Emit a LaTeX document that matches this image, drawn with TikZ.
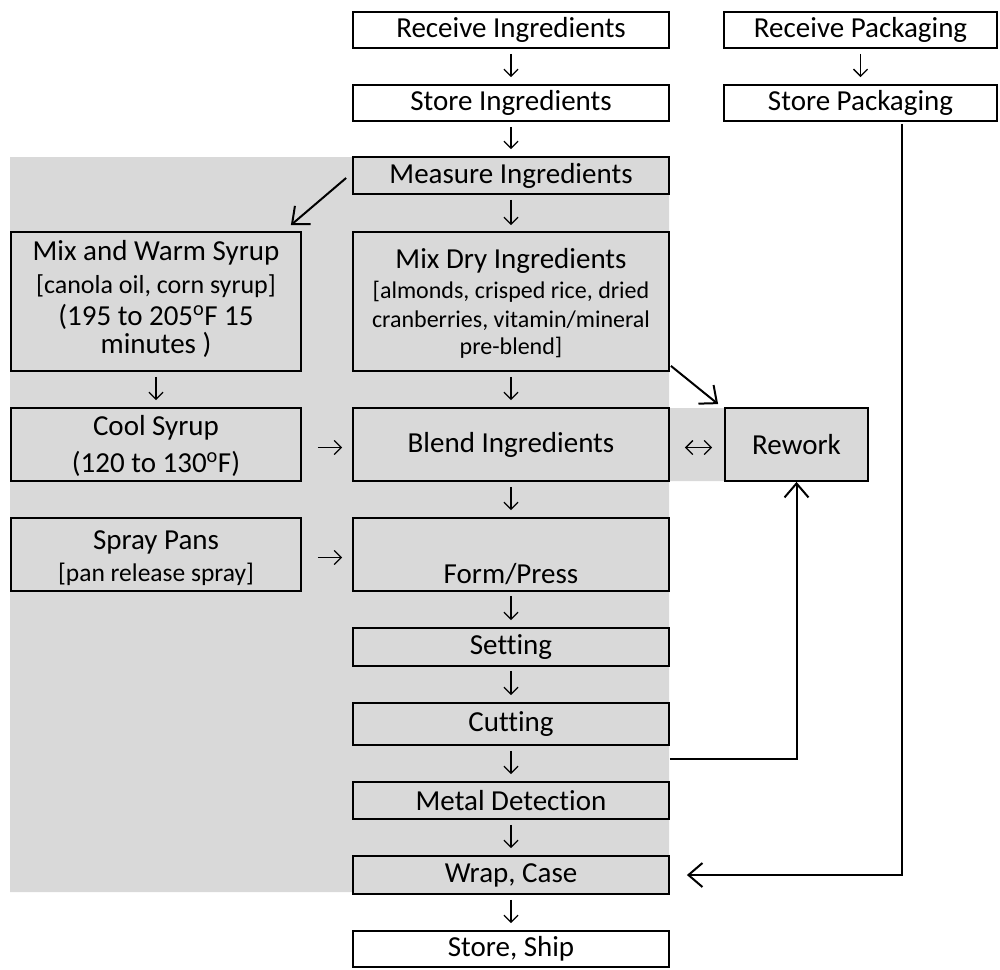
\documentclass[tikz,border=0pt]{standalone}
\usepackage{fontspec}
\setmainfont{Carlito}[Ligatures=NoCommon]
\usetikzlibrary{arrows.meta,calc}
\definecolor{grayfill}{HTML}{D9D9D9}
\begin{document}
\begin{tikzpicture}[x=1pt,y=-1pt,
  box/.style={draw, line width=1.8pt, inner sep=0pt, font=\fontsize{29}{35}\selectfont},
  gbox/.style={box, fill=grayfill},
  wbox/.style={box, fill=white},
  maintxt/.style={inner sep=0pt, anchor=base, font=\fontsize{29}{35}\selectfont},
  subtxt/.style={inner sep=0pt, anchor=base, font=\fontsize{24}{29}\selectfont},
  subtxtb/.style={inner sep=0pt, anchor=base, font=\fontsize{26}{29}\selectfont},
  smalltxt/.style={inner sep=0pt, anchor=base, font=\fontsize{25.5}{29}\selectfont},
  thinar/.style={line width=1.3pt, -{Straight Barb[length=7pt,width=14pt,line width=1.3pt]}},
  thinboth/.style={line width=1.3pt, {Straight Barb[length=7pt,width=14pt,line width=1.3pt]}-{Straight Barb[length=7pt,width=14pt,line width=1.3pt]}},
  bigar/.style={line width=2pt, -{Straight Barb[length=14pt,width=24pt,line width=2pt]}}
]
\useasboundingbox (0,0) rectangle (1000,969);
\fill[white] (0,0) rectangle (1000,969);
% gray background region
\fill[grayfill] (10,157) -- (669,157) -- (669,408) -- (725,408) -- (725,481) -- (669,481) -- (669,892) -- (10,892) -- cycle;

% top row
\node[wbox, minimum width=316pt, minimum height=36pt] (recvI) at (511,30) {Receive Ingredients};
\node[wbox, minimum width=316pt, minimum height=36pt] (storeI) at (511,103) {Store Ingredients};
\node[wbox, minimum width=273pt, minimum height=36pt] (recvP) at (860.5,30) {Receive Packaging};
\node[wbox, minimum width=273pt, minimum height=36pt] (storeP) at (860.5,103) {Store Packaging};

% main column
\node[gbox, minimum width=316pt, minimum height=37pt] (measure) at (511,175.5) {Measure Ingredients};
\node[gbox, minimum width=290pt, minimum height=139pt] (mixwarm) at (156,301.5) {};
\node[maintxt] (mw1) at (156,260) {Mix and Warm Syrup};
\node[subtxtb] (mw2) at (156,293) {[canola oil, corn syrup]};
\node[maintxt] (mw3) at (156,325) {(195 to 205\textsuperscript{o}F 15};
\node[maintxt] (mw4) at (156,353) {minutes )};

\node[gbox, minimum width=316pt, minimum height=139pt] (mixdry) at (511,301.5) {};
\node[maintxt] (md1) at (511,268) {Mix Dry Ingredients};
\node[subtxt] (md2) at (511,298) {[almonds, crisped rice, dried};
\node[subtxt] (md3) at (511,327) {cranberries, vitamin/mineral};
\node[subtxt] (md4) at (511,354) {pre-blend]};

\node[gbox, minimum width=290pt, minimum height=73pt] (cool) at (156,444.5) {};
\node[maintxt] (cs1) at (156,435) {Cool Syrup};
\node[maintxt] (cs2) at (156,472) {(120 to 130\textsuperscript{o}F)};

\node[gbox, minimum width=316pt, minimum height=73pt] (blend) at (511,444.5) {Blend Ingredients};
\node[gbox, minimum width=143pt, minimum height=73pt] (rework) at (796.5,444.5) {Rework};

\node[gbox, minimum width=290pt, minimum height=73pt] (spray) at (156,554.5) {};
\node[maintxt] (sp1) at (156,549) {Spray Pans};
\node[smalltxt] (sp2) at (156,581) {[pan release spray]};

\node[gbox, minimum width=316pt, minimum height=73pt] (form) at (511,554.5) {};
\node[maintxt] (fp1) at (511,583) {Form/Press};

\node[gbox, minimum width=316pt, minimum height=38pt] (setting) at (511,647) {Setting};
\node[gbox, minimum width=316pt, minimum height=42pt] (cutting) at (511,724) {Cutting};
\node[gbox, minimum width=316pt, minimum height=37pt] (metal) at (511,800.5) {Metal Detection};
\node[gbox, minimum width=316pt, minimum height=38pt] (wrap) at (511,875) {Wrap, Case};
\node[wbox, minimum width=316pt, minimum height=36pt] (ship) at (511,949) {Store, Ship};

% thin vertical arrows
\draw[thinar, shorten <=5pt, shorten >=7pt] (recvI.south) -- (storeI.north);
\draw[thinar, shorten <=5pt, shorten >=7pt] (recvP.south) -- (storeP.north);
\draw[thinar, shorten <=5pt, shorten >=7pt] (storeI.south) -- (measure.north);
\draw[thinar, shorten <=5pt, shorten >=6pt] (measure.south) -- (mixdry.north);
\draw[thinar, shorten <=5pt, shorten >=7pt] (mixdry.south) -- (blend.north);
\draw[thinar, shorten <=5pt, shorten >=7pt] (mixwarm.south) -- (cool.north);
\draw[thinar, shorten <=5pt, shorten >=7pt] (blend.south) -- (form.north);
\draw[thinar, shorten <=4pt, shorten >=7pt] (form.south) -- (setting.north);
\draw[thinar, shorten <=4pt, shorten >=7pt] (setting.south) -- (cutting.north);
\draw[thinar, shorten <=5pt, shorten >=7pt] (cutting.south) -- (metal.north);
\draw[thinar, shorten <=5pt, shorten >=7pt] (metal.south) -- (wrap.north);
\draw[thinar, shorten <=5pt, shorten >=7pt] (wrap.south) -- (ship.north);

% thin horizontal arrows
\draw[thinar, shorten <=16pt, shorten >=10pt] ([shift={(0,3)}]cool.east) -- ([shift={(0,3)}]blend.west);
\draw[thinar, shorten <=16pt, shorten >=10pt] ([shift={(0,3)}]spray.east) -- ([shift={(0,3)}]form.west);
\draw[thinboth, shorten <=15pt, shorten >=12pt] ([shift={(0,3)}]blend.east) -- ([shift={(0,3)}]rework.west);

% big arrows
\draw[bigar] ([shift={(-6,2.5)}]measure.west) -- ([shift={(-11,-6)}]mixwarm.north east);
\draw[bigar] ([shift={(1,-6)}]mixdry.south east) -- ([shift={(-6,-3)}]rework.north west);
\draw[bigar] ([shift={(0,13)}]cutting.south east) -| (rework.south);
\draw[bigar] ([shift={(41.5,2)}]storeP.south) |- ([shift={(17,0)}]wrap.east);
\end{tikzpicture}
\end{document}
